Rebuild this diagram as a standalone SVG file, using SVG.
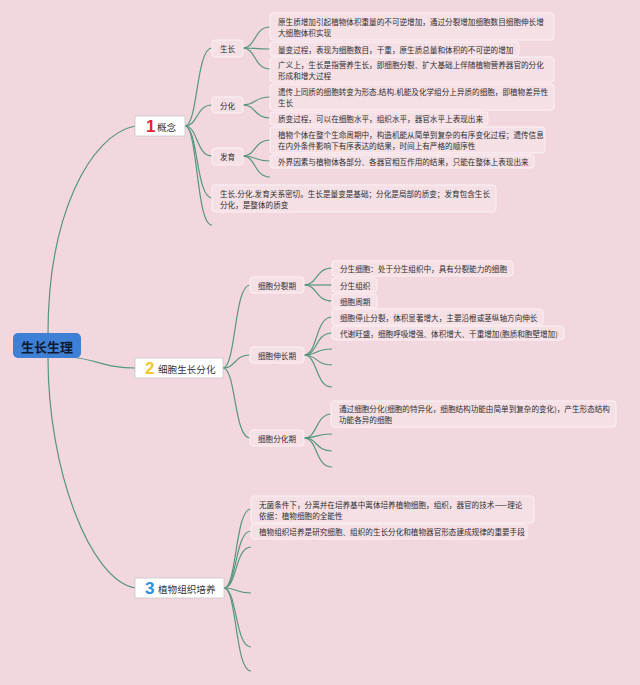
<svg xmlns="http://www.w3.org/2000/svg" width="640" height="685" viewBox="0 0 640 685">
<style>
.bg{fill:#f2d7df}
.lk{fill:none;stroke:#56967f;stroke-width:1.2}
.bx{fill:#f5e0e6;stroke:#fcf2f5;stroke-width:1}
.t{font-family:"Noto Sans CJK SC","Noto Sans",sans-serif;font-size:7.6px;fill:#2e2e2e;dominant-baseline:central}
.c{text-anchor:middle}
.l1{fill:#fff;stroke:#c8c8c8;stroke-width:0.8}
.t1{font-family:"Noto Sans CJK SC","Noto Sans",sans-serif;font-size:9.6px;fill:#333;dominant-baseline:central}
.num{font-family:"Liberation Sans",Arial,sans-serif;font-weight:bold;font-size:17px;dominant-baseline:central}
</style>
<rect class="bg" x="0" y="0" width="640" height="685"/>
<g id="connectors">
<path class="lk" d="M48,334 C48,215 90,135 135,126"/>
<path class="lk" d="M70,357 C100,360 105,368 135,368"/>
<path class="lk" d="M48,358 C48,470 90,580 135,588"/>
<path class="lk" d="M185,126 C198,126 196,48 212,48"/>
<path class="lk" d="M185,126 C198,126 196,105 212,105"/>
<path class="lk" d="M185,126 C198,126 196,156 212,156"/>
<path class="lk" d="M185,126 C198,126 196,198 212,198"/>
<path class="lk" d="M185,126 C198,126 196,225 212,225"/>
<path class="lk" d="M243,48 C256,48 254,27 270,27"/>
<path class="lk" d="M243,48 C256,48 254,49 270,49"/>
<path class="lk" d="M243,48 C256,48 254,69 270,69"/>
<path class="lk" d="M243,105 C256,105 254,97 270,97"/>
<path class="lk" d="M243,105 C256,105 254,118 270,118"/>
<path class="lk" d="M243,156 C256,156 254,140 270,140"/>
<path class="lk" d="M243,156 C256,156 254,161 270,161"/>
<path class="lk" d="M243,156 C256,156 254,177 270,177"/>
<path class="lk" d="M223,368 C236,368 234,285 250,285"/>
<path class="lk" d="M223,368 C236,368 234,355 250,355"/>
<path class="lk" d="M223,368 C236,368 234,438 250,438"/>
<path class="lk" d="M304,285 C318,285 315,268 332,268"/>
<path class="lk" d="M304,285 C318,285 315,285 332,285"/>
<path class="lk" d="M304,285 C318,285 315,301 332,301"/>
<path class="lk" d="M304,355 C318,355 315,317 332,317"/>
<path class="lk" d="M304,355 C318,355 315,333 332,333"/>
<path class="lk" d="M304,355 C318,355 315,349 332,349"/>
<path class="lk" d="M304,355 C318,355 315,365 332,365"/>
<path class="lk" d="M304,355 C318,355 315,387 332,387"/>
<path class="lk" d="M304,438 C318,438 315,414 332,414"/>
<path class="lk" d="M304,438 C318,438 315,434 332,434"/>
<path class="lk" d="M304,438 C318,438 315,451 332,451"/>
<path class="lk" d="M304,438 C318,438 315,467 332,467"/>
<path class="lk" d="M224,588 C237,588 235,509 251,509"/>
<path class="lk" d="M224,588 C237,588 235,531 251,531"/>
<path class="lk" d="M224,588 C237,588 235,547 251,547"/>
<path class="lk" d="M224,588 C237,588 235,593 251,593"/>
<path class="lk" d="M224,588 C237,588 235,647 251,647"/>
<path class="lk" d="M224,588 C237,588 235,671 251,671"/>
</g>
<g id="root">
<rect x="13" y="333" width="68" height="25" rx="5" fill="#3d80d6"/>
<text x="47" y="346" text-anchor="middle" font-family="Noto Sans CJK SC,sans-serif" font-weight="bold" font-size="13px" fill="#0f1a2e" dominant-baseline="central">生长生理</text>
</g>
<g id="n1">
<rect class="l1" x="135" y="116" width="50" height="20"/>
<text class="num" x="146" y="126.5" fill="#e01f35">1</text>
<text class="t1" x="157" y="126.5">概念</text>
</g>
<g id="n2">
<rect class="l1" x="135" y="358" width="88" height="20"/>
<text class="num" x="145" y="368.5" fill="#f4c52a">2</text>
<text class="t1" x="158" y="368.5">细胞生长分化</text>
</g>
<g id="n3">
<rect class="l1" x="135" y="578" width="89" height="20"/>
<text class="num" x="145" y="588.5" fill="#2b8fda">3</text>
<text class="t1" x="158" y="588.5">植物组织培养</text>
</g>
<g id="shengzhang"><rect class="bx" x="212" y="40" width="31" height="17" rx="3"/><text class="t c" x="227.5" y="48.5">生长</text></g>
<g id="fenhua"><rect class="bx" x="212" y="97" width="31" height="16" rx="3"/><text class="t c" x="227.5" y="105">分化</text></g>
<g id="fayu"><rect class="bx" x="212" y="148" width="31" height="17" rx="3"/><text class="t c" x="227.5" y="156.5">发育</text></g>
<g id="guanxi"><rect class="bx" x="212" y="185" width="284" height="27" rx="3"/><text class="t" x="220" y="193.5">生长.分化.发育关系密切。生长是量变是基础；分化是局部的质变；发育包含生长</text><text class="t" x="220" y="204.5">分化，是整体的质变</text></g>
<g id="a1"><rect class="bx" x="270" y="13" width="284" height="27" rx="3"/><text class="t" x="278" y="21.5">原生质增加引起植物体积重量的不可逆增加，通过分裂增加细胞数目细胞伸长增</text><text class="t" x="278" y="32.5">大细胞体积实现</text></g>
<g id="a2"><rect class="bx" x="270" y="42" width="249" height="14" rx="3"/><text class="t" x="278" y="49">量变过程，表现为细胞数目，干重，原生质总量和体积的不可逆的增加</text></g>
<g id="a3"><rect class="bx" x="270" y="57" width="284" height="25" rx="3"/><text class="t" x="278" y="64.5">广义上，生长是指营养生长，即细胞分裂、扩大基础上伴随植物营养器官的分化</text><text class="t" x="278" y="75">形成和增大过程</text></g>
<g id="b1"><rect class="bx" x="270" y="84" width="284" height="26" rx="3"/><text class="t" x="278" y="91.5">遗传上同质的细胞转变为形态.结构.机能及化学组分上异质的细胞，即植物差异性</text><text class="t" x="278" y="102.5">生长</text></g>
<g id="b2"><rect class="bx" x="270" y="112" width="218" height="13" rx="3"/><text class="t" x="278" y="118.5">质变过程，可以在细胞水平，组织水平，器官水平上表现出来</text></g>
<g id="c1"><rect class="bx" x="270" y="127" width="275" height="26" rx="3"/><text class="t" x="278" y="134.5">植物个体在整个生命周期中，构造机能从简单到复杂的有序变化过程；遗传信息</text><text class="t" x="278" y="145.5">在内外条件影响下有序表达的结果，时间上有严格的顺序性</text></g>
<g id="c2"><rect class="bx" x="270" y="155" width="264" height="13" rx="3"/><text class="t" x="278" y="161.5">外界因素与植物体各部分、各器官相互作用的结果，只能在整体上表现出来</text></g>
<g id="fenlie"><rect class="bx" x="250" y="277" width="54" height="16" rx="3"/><text class="t c" x="277" y="285">细胞分裂期</text></g>
<g id="shenchang"><rect class="bx" x="250" y="347" width="54" height="16" rx="3"/><text class="t c" x="277" y="355">细胞伸长期</text></g>
<g id="fenhuaqi"><rect class="bx" x="250" y="430" width="54" height="16" rx="3"/><text class="t c" x="277" y="438">细胞分化期</text></g>
<g id="d1"><rect class="bx" x="332" y="261" width="181" height="15" rx="3"/><text class="t" x="340" y="268.5">分生细胞：处于分生组织中，具有分裂能力的细胞</text></g>
<g id="d2"><rect class="bx" x="332" y="278" width="45" height="14" rx="3"/><text class="t" x="340" y="285">分生组织</text></g>
<g id="d3"><rect class="bx" x="332" y="294" width="45" height="14" rx="3"/><text class="t" x="340" y="301">细胞周期</text></g>
<g id="e1"><rect class="bx" x="332" y="309" width="211" height="16" rx="3"/><text class="t" x="340" y="317">细胞停止分裂，体积显著增大，主要沿根或茎纵轴方向伸长</text></g>
<g id="e2"><rect class="bx" x="332" y="326" width="232" height="14" rx="3"/><text class="t" x="340" y="333">代谢旺盛，细胞呼吸增强、体积增大、干重增加(胞质和胞壁增加)</text></g>
<g id="f1"><rect class="bx" x="331" y="401" width="285" height="26" rx="3"/><text class="t" x="339" y="408.5">通过细胞分化(细胞的特异化，细胞结构功能由简单到复杂的变化)，产生形态结构</text><text class="t" x="339" y="419.5">功能各异的细胞</text></g>
<g id="g1"><rect class="bx" x="251" y="496" width="283" height="27" rx="3"/><text class="t" x="259" y="504">无菌条件下，分离并在培养基中离体培养植物细胞，组织，器官的技术——理论</text><text class="t" x="259" y="515">依据：植物细胞的全能性</text></g>
<g id="g2"><rect class="bx" x="251" y="524" width="276" height="15" rx="3"/><text class="t" x="259" y="531.5">植物组织培养是研究细胞、组织的生长分化和植物器官形态建成规律的重要手段</text></g>
</svg>
